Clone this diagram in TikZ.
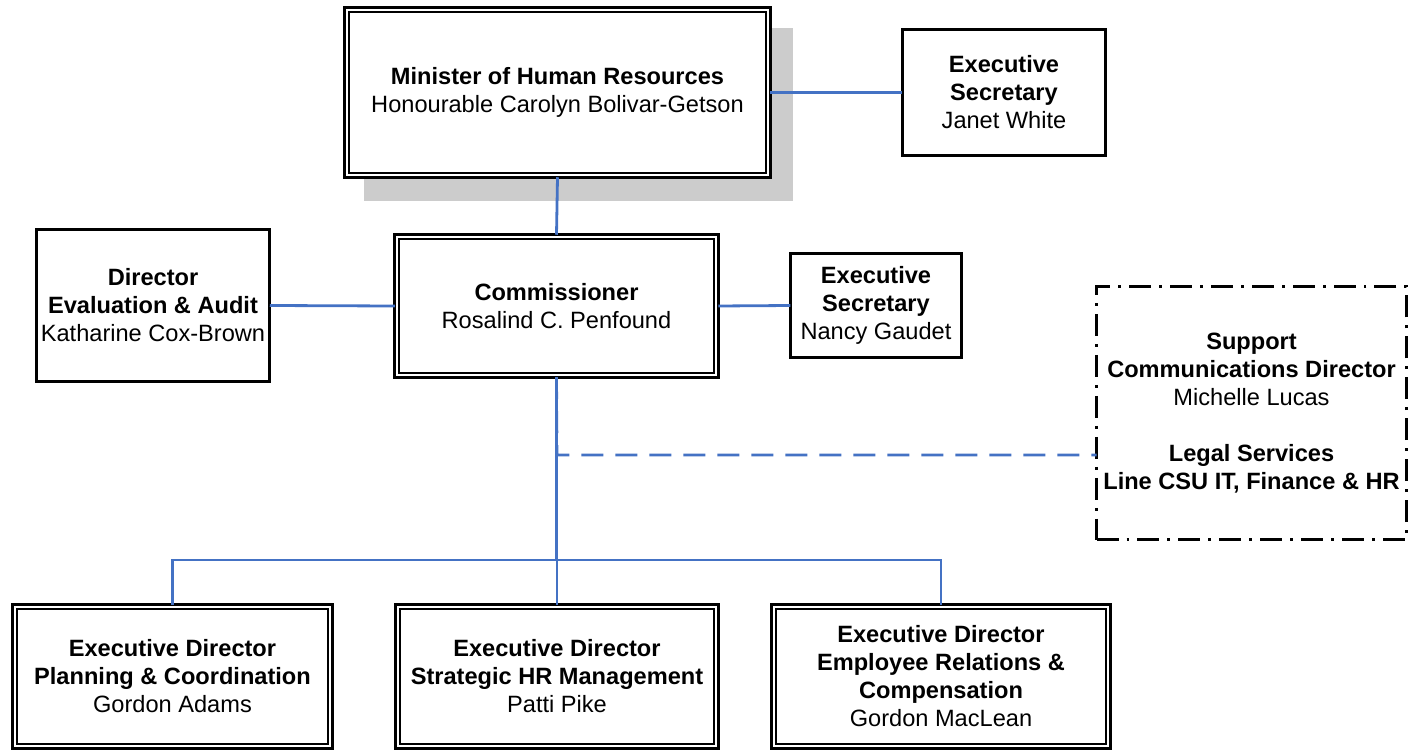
\documentclass[tikz,border=0pt]{standalone}
\usepackage{fontspec}
\setmainfont{Liberation Sans}
\definecolor{conn}{HTML}{4472C4}
\definecolor{shadowgray}{HTML}{CCCCCC}
\tikzset{
  base/.style={fill=white, align=center, outer sep=0pt, inner sep=0pt,
    font=\fontsize{17.7}{21}\selectfont},
  plainbox/.style={base, draw, line width=2pt},
  tribox/.style={base, draw, line width=2.6pt},
  innerline/.style={line width=1.3pt},
  supportbox/.style={base, draw, line width=2.2pt,
    dash pattern=on 16.5pt off 6pt on 2.2pt off 6pt},
  link/.style={draw=conn, line width=2.1pt},
  duty/.style={link, dash pattern=on 16.5pt off 9pt},
  shadowbox/.style={fill=shadowgray},
}
\begin{document}
\begin{tikzpicture}[x=0.75pt,y=-0.75pt]
\useasboundingbox (0,0) rectangle (1410,752);
% shadow
\path[shadowbox] (364,28) rectangle (793,201);
% nodes
\node[tribox, minimum width=425.5*0.75pt, minimum height=169.5*0.75pt] (minister) at (557.5,92.5)
  {\textbf{Minister of Human Resources}\\Honourable Carolyn Bolivar-Getson};
\node[plainbox, minimum width=203.5*0.75pt, minimum height=126.5*0.75pt] (janet) at (1004,92.5)
  {\textbf{Executive}\\\textbf{Secretary}\\Janet White};
\node[plainbox, minimum width=233.5*0.75pt, minimum height=152.5*0.75pt] (eval) at (153,305.5)
  {\textbf{Director}\\\textbf{Evaluation \& Audit}\\Katharine Cox-Brown};
\node[tribox, minimum width=323.5*0.75pt, minimum height=142.5*0.75pt] (comm) at (556.5,306)
  {\textbf{Commissioner}\\Rosalind C. Penfound};
\node[plainbox, minimum width=171.5*0.75pt, minimum height=104.5*0.75pt] (nancy) at (876,305.5)
  {\textbf{Executive}\\\textbf{Secretary}\\Nancy Gaudet};
\node[supportbox, minimum width=310*0.75pt, minimum height=253*0.75pt] (support) at (1251.5,413)
  {\textbf{Support}\\\textbf{Communications Director}\\Michelle Lucas\\[21pt]\textbf{Legal Services}\\\textbf{Line CSU IT, Finance \& HR}};
\node[tribox, minimum width=319.5*0.75pt, minimum height=143.5*0.75pt] (b1) at (172.5,676.5)
  {\textbf{Executive Director}\\\textbf{Planning \& Coordination}\\Gordon Adams};
\node[tribox, minimum width=322.5*0.75pt, minimum height=143.5*0.75pt] (b2) at (557,676.5)
  {\textbf{Executive Director}\\\textbf{Strategic HR Management}\\Patti Pike};
\node[tribox, minimum width=338.5*0.75pt, minimum height=143.5*0.75pt] (b3) at (941,676.5)
  {\textbf{Executive Director}\\\textbf{Employee Relations \&}\\\textbf{Compensation}\\Gordon MacLean};
% inner thin lines of the triple borders
\foreach \n in {minister,comm,b1,b2,b3}
  \draw[innerline] ([shift={(3.2pt,3.2pt)}]\n.south west) rectangle ([shift={(-3.2pt,-3.2pt)}]\n.north east);
% connectors
\coordinate (bus) at (557,560);
\coordinate (dj) at (557,455);
\draw[link] (minister.east) -- (janet.west);
\draw[link] (minister.south) -- (comm.north);
\draw[link] (eval.east) -- (comm.west);
\draw[link] (comm.east) -- (nancy.west);
\draw[link] (comm.south) -- (comm.south |- bus);
\draw[link] (b1.north) |- (bus) -| (b3.north);
\draw[link] (bus) -- (b2.north);
\draw[duty] (comm.south) -- (dj) -- (support.west |- dj);
\end{tikzpicture}
\end{document}
